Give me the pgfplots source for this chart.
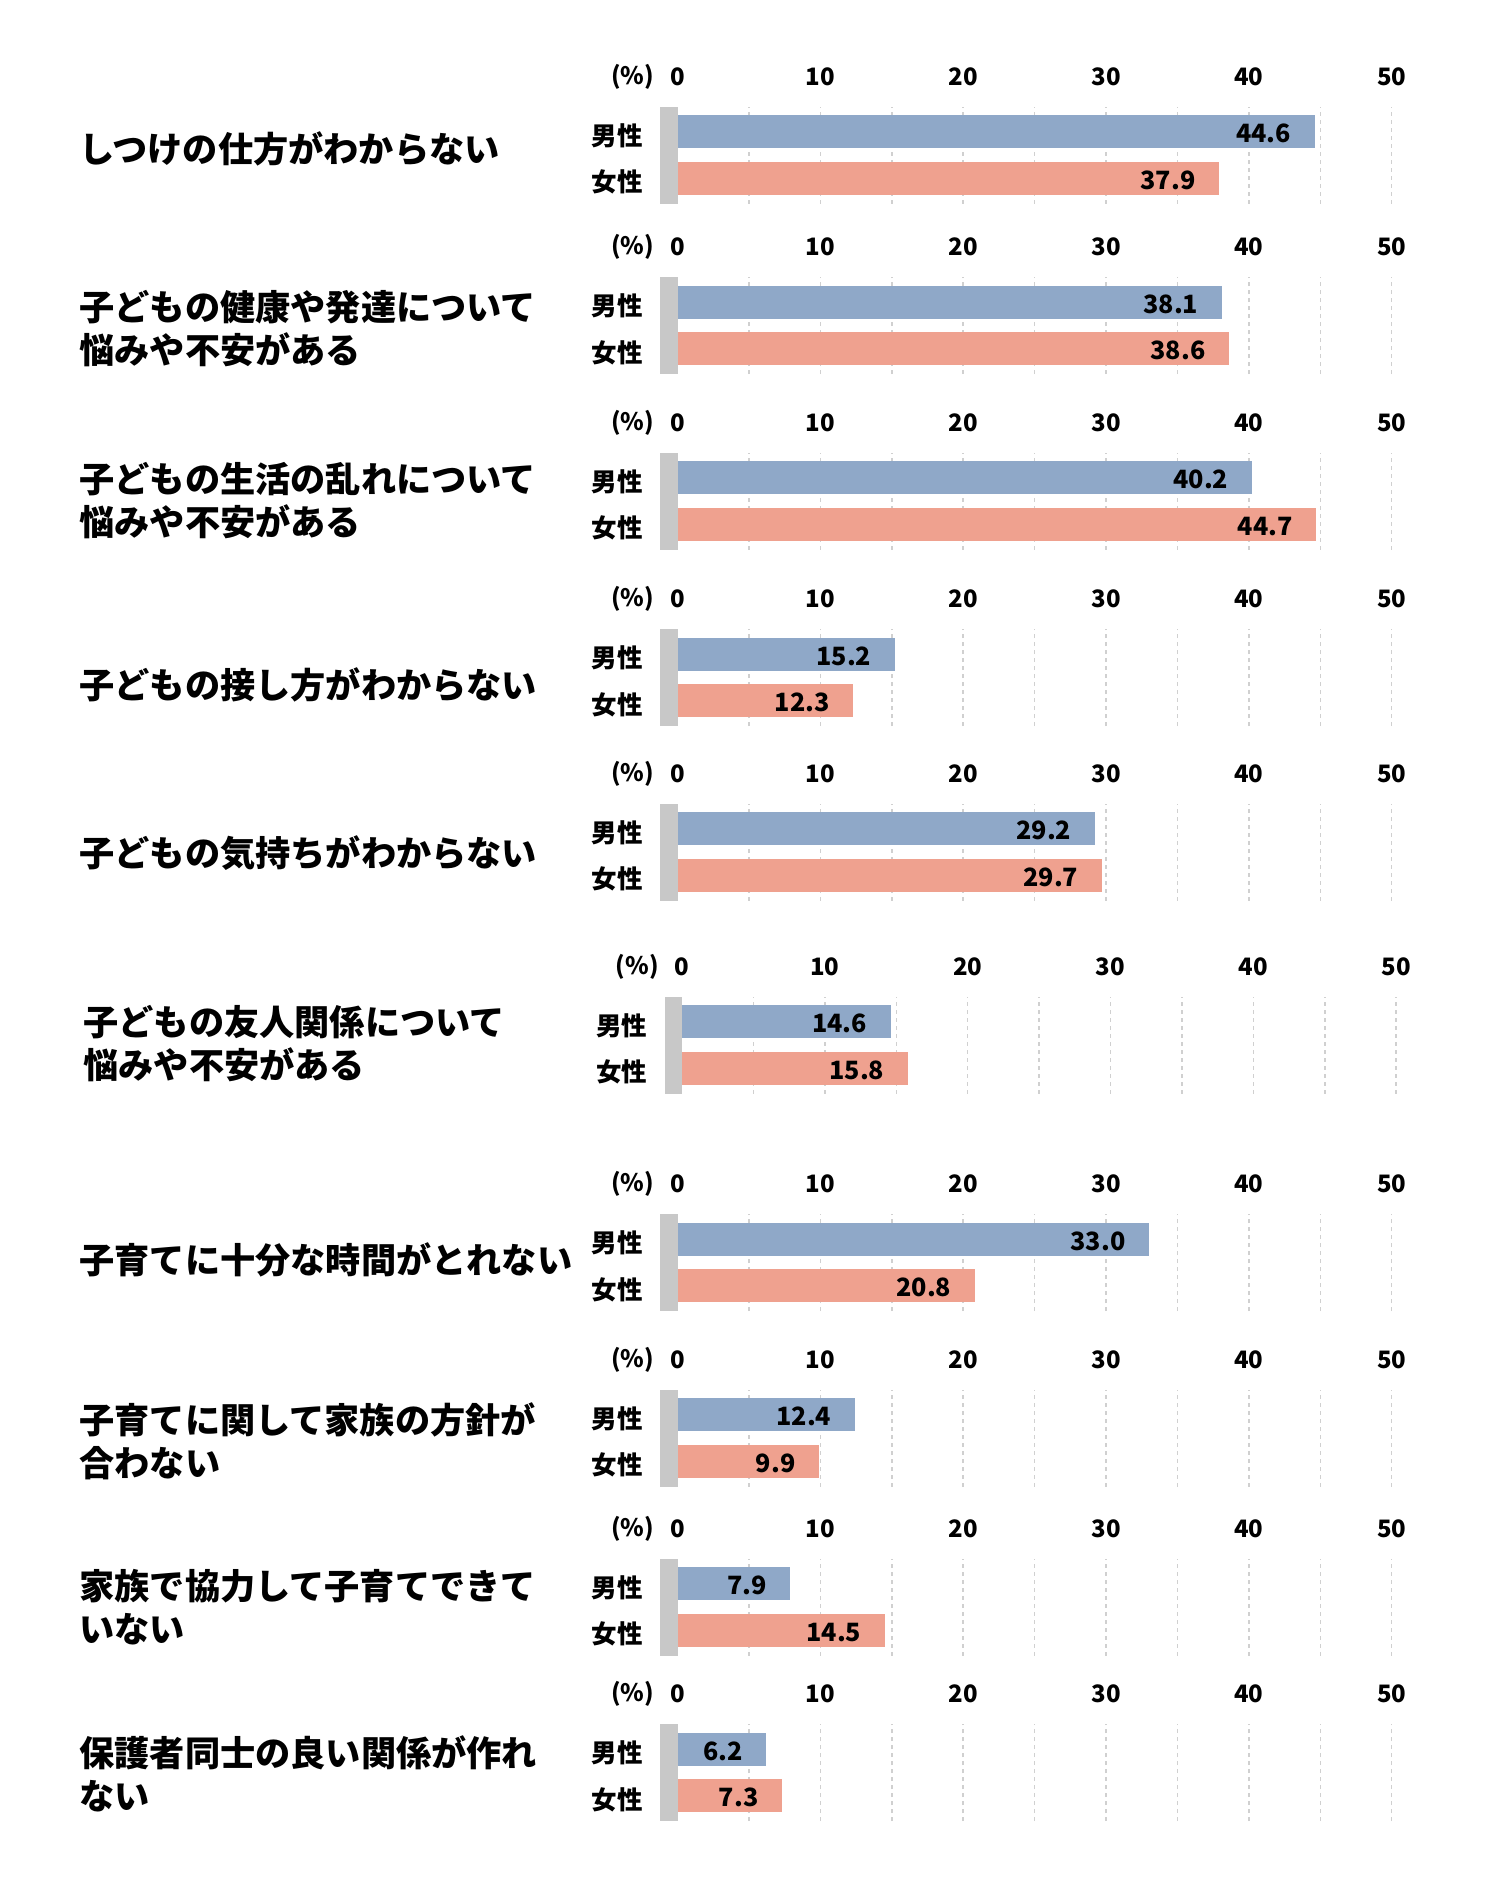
\documentclass[border=0pt]{standalone}
\usepackage{fontspec}
\setmainfont{Noto Sans CJK JP}
\usepackage{pgfplots}
\pgfplotsset{compat=1.18}
\definecolor{mblue}{HTML}{8FA8C8}
\definecolor{fsalmon}{HTML}{EFA18F}
\definecolor{gbar}{HTML}{C8C8C8}
\definecolor{gridc}{HTML}{D0D0D0}
\newcommand\tickfont{\bfseries\fontsize{12}{14}\selectfont}
\newcommand\valfont{\bfseries\fontsize{12.6}{14}\selectfont}
\newcommand\titlefont{\bfseries\fontsize{17.6}{21.5}\selectfont}
\pgfplotsset{
 panel/.style={
  scale only axis, width=357.1pt, height=48.5pt, anchor=north west,
  xmin=0, xmax=50, ymin=0, ymax=97, clip=false,
  axis line style={draw=none}, major tick length=0pt, minor tick length=0pt,
  xtick={0,10,20,30,40,50}, xticklabels={0,10,20,30,40,50}, xticklabel pos=upper,
  minor xtick={5,10,15,20,25,30,35,40,45,50}, xminorgrids=true, xmajorgrids=false, ymajorgrids=false,
  minor grid style={draw=gridc, line width=0.75pt, dash pattern=on 2pt off 2pt},
  xticklabel style={anchor=center, yshift=15pt, inner sep=0pt, font=\tickfont},
  ytick={25.5,72}, yticklabels={女性,男性},
  yticklabel style={anchor=east, inner sep=0pt, xshift=-17.25pt, yshift=-2pt, font=\bfseries\fontsize{12.75}{14}\selectfont},
  /pgf/number format/assume math mode=true,
  point meta=explicit symbolic,
  nodes near coords,
 },
 vlab/.style={every node near coord/.append style={anchor=east, xshift=-11.5pt, yshift=-1pt, inner sep=0pt, text=black, font=\valfont}},
 male/.style={xbar, bar width=16.5pt, bar shift=0pt, fill=mblue, draw=none, vlab},
 female/.style={xbar, bar width=16.5pt, bar shift=0pt, fill=fsalmon, draw=none, vlab},
}
\newcommand\deco{%
 \fill[gbar] (axis cs:-1.225,0) rectangle (axis cs:0,97);
 \node[anchor=east, inner sep=0pt, xshift=-11.5pt, yshift=15pt, font=\tickfont] at (axis cs:0,97) {(\%)};
}
\tikzset{ttl/.style={anchor=west, align=left, inner sep=0pt, font=\titlefont}}
\begin{document}
\begin{tikzpicture}
\useasboundingbox (0,0) rectangle (743.5pt,-942pt);

% 1
\begin{axis}[panel, at={(338.75pt,-53.3pt)}]
\addplot[male] coordinates {(44.6,72) [44.6]};
\addplot[female] coordinates {(37.9,25.5) [37.9]};
\deco
\end{axis}
\node[ttl] at (39.5pt,-74.35pt) {しつけの仕方がわからない};

% 2
\begin{axis}[panel, at={(338.75pt,-138.5pt)}]
\addplot[male] coordinates {(38.1,72) [38.1]};
\addplot[female] coordinates {(38.6,25.5) [38.6]};
\deco
\end{axis}
\node[ttl] at (39.5pt,-164.45pt) {子どもの健康や発達について\\悩みや不安がある};

% 3
\begin{axis}[panel, at={(338.75pt,-226.35pt)}]
\addplot[male] coordinates {(40.2,72) [40.2]};
\addplot[female] coordinates {(44.7,25.5) [44.7]};
\deco
\end{axis}
\node[ttl] at (39.5pt,-250.35pt) {子どもの生活の乱れについて\\悩みや不安がある};

% 4
\begin{axis}[panel, at={(338.75pt,-314.5pt)}]
\addplot[male] coordinates {(15.2,72) [15.2]};
\addplot[female] coordinates {(12.3,25.5) [12.3]};
\deco
\end{axis}
\node[ttl] at (39.5pt,-342.3pt) {子どもの接し方がわからない};

% 5
\begin{axis}[panel, at={(338.75pt,-401.75pt)}]
\addplot[male] coordinates {(29.2,72) [29.2]};
\addplot[female] coordinates {(29.7,25.5) [29.7]};
\deco
\end{axis}
\node[ttl] at (39.5pt,-426.4pt) {子どもの気持ちがわからない};

% 6
\begin{axis}[panel, at={(341pt,-498.35pt)}]
\addplot[male] coordinates {(14.6,72) [14.6]};
\addplot[female] coordinates {(15.8,25.5) [15.8]};
\deco
\end{axis}
\node[ttl] at (41.5pt,-522pt) {子どもの友人関係について\\悩みや不安がある};

% 7
\begin{axis}[panel, at={(338.75pt,-607pt)}]
\addplot[male] coordinates {(33.0,72) [33.0]};
\addplot[female] coordinates {(20.8,25.5) [20.8]};
\deco
\end{axis}
\node[ttl] at (39.5pt,-630pt) {子育てに十分な時間がとれない};

% 8
\begin{axis}[panel, at={(338.75pt,-694.8pt)}]
\addplot[male] coordinates {(12.4,72) [12.4]};
\addplot[female] coordinates {(9.9,25.5) [9.9]};
\deco
\end{axis}
\node[ttl] at (39.5pt,-720.8pt) {子育てに関して家族の方針が\\合わない};

% 9
\begin{axis}[panel, at={(338.75pt,-779.3pt)}]
\addplot[male] coordinates {(7.9,72) [7.9]};
\addplot[female] coordinates {(14.5,25.5) [14.5]};
\deco
\end{axis}
\node[ttl] at (39.5pt,-803.8pt) {家族で協力して子育てできて\\いない};

% 10
\begin{axis}[panel, at={(338.75pt,-862pt)}]
\addplot[male] coordinates {(6.2,72) [6.2]};
\addplot[female] coordinates {(7.3,25.5) [7.3]};
\deco
\end{axis}
\node[ttl] at (39.5pt,-886.8pt) {保護者同士の良い関係が作れ\\ない};

\end{tikzpicture}
\end{document}
